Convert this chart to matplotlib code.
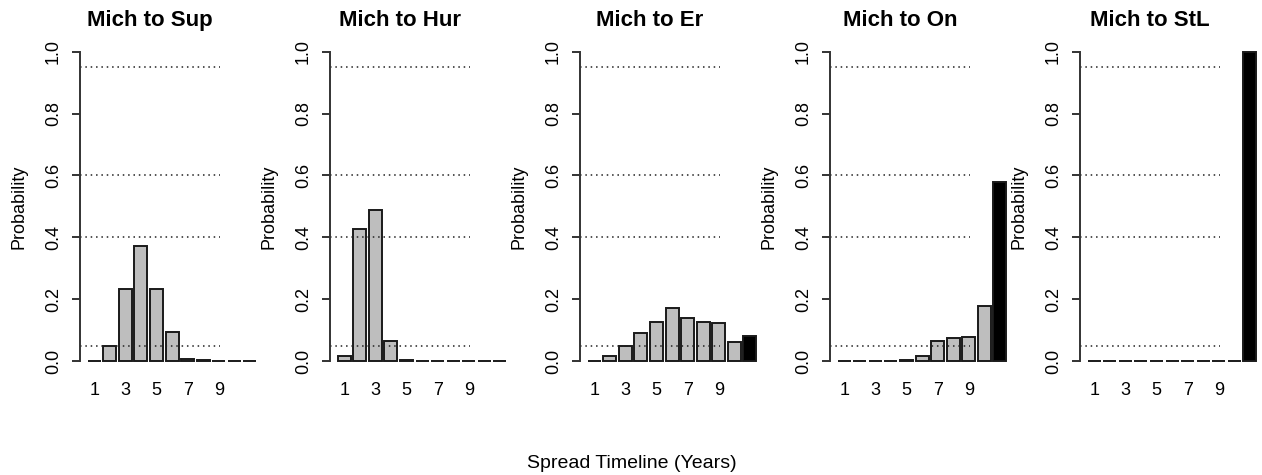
import matplotlib
matplotlib.use('Agg')
import matplotlib.pyplot as plt

plt.rcParams['font.family'] = ['Liberation Sans', 'DejaVu Sans']

# spread probabilities per year (bar 11 = beyond 10 years)
titles = ['Mich to Sup', 'Mich to Hur', 'Mich to Er', 'Mich to On', 'Mich to StL']
sup = [0.0, 0.049, 0.232, 0.373, 0.232, 0.095, 0.0075, 0.004, 0.0, 0.0, 0.0]
hur = [0.015, 0.427, 0.488, 0.066, 0.004, 0.0, 0.0, 0.0, 0.0, 0.0, 0.0]
er = [0.0, 0.015, 0.049, 0.092, 0.127, 0.173, 0.139, 0.127, 0.124, 0.061, 0.082]
on = [0.0, 0.0, 0.0, 0.0, 0.004, 0.015, 0.066, 0.073, 0.078, 0.178, 0.58]
stl = [0.0, 0.0, 0.0, 0.0, 0.0, 0.0, 0.0, 0.0, 0.0, 0.0, 1.0]
series = [sup, hur, er, on, stl]

years = list(range(1, 12))
tick_labels = ['1', '3', '5', '7', '9']
y_ticks = [0.0, 0.2, 0.4, 0.6, 0.8, 1.0]
ref_lines = [0.05, 0.4, 0.6, 0.95]

W, H = 1262, 475
fig = plt.figure(figsize=(W / 100, H / 100), dpi=100)

# R barplot style positions: width 1, space 0.2
pos = [0.7 + 1.2 * (y - 1) for y in years]

for i, (title, vals) in enumerate(zip(titles, series)):
    left = (80 + 250 * i) / W
    ax = fig.add_axes([left, (H - 373.4) / H, 140 / W, 334 / H])
    colors = ['#bebebe'] * 10 + ['black']
    ax.bar(pos, vals, width=1.0, color=colors, edgecolor='#1a1a1a',
           linewidth=1.4, clip_on=False)
    for y in ref_lines:
        ax.axhline(y, color='#222222', linestyle=(0, (1, 2.5)), linewidth=1.1)
    ax.set_xlim(-0.4, 10.4)
    ax.set_ylim(-0.04, 1.04)
    for s in ['top', 'right', 'bottom']:
        ax.spines[s].set_visible(False)
    ax.spines['left'].set_bounds(0, 1)
    ax.spines['left'].set_color('#333333')
    ax.spines['left'].set_linewidth(1.4)
    ax.set_yticks(y_ticks)
    ax.set_yticklabels(['%.1f' % t for t in y_ticks], rotation=90, va='center')
    ax.tick_params(axis='y', length=6, width=1.4, pad=7, labelsize=13,
                   color='#333333')
    ax.set_xticks([pos[int(t) - 1] for t in tick_labels])
    ax.set_xticklabels(tick_labels)
    ax.tick_params(axis='x', length=0, pad=6, labelsize=13)
    ax.set_title(title, fontsize=16, fontweight='bold', pad=10)
    ax.text(-0.436, 0.5, 'Probability', transform=ax.transAxes, rotation=90,
            ha='center', va='center', fontsize=13)

fig.text(632 / W, 1 - 463 / H, 'Spread Timeline (Years)', ha='center',
         va='center', fontsize=14)

fig.savefig('out.png', dpi=100)
